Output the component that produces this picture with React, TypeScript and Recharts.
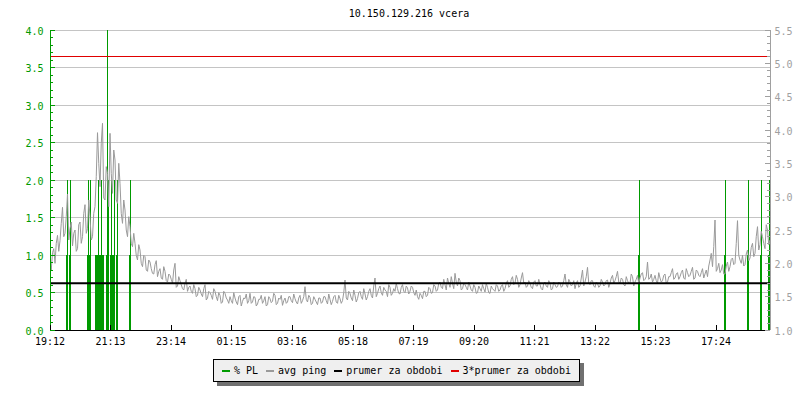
import React from 'react';
import { ComposedChart, Line, Bar, XAxis, YAxis, CartesianGrid, ReferenceLine } from 'recharts';

const chartTitle = '10.150.129.216 vcera';

const xTickMinutes = [0, 121, 242, 363, 484, 606, 727, 848, 969, 1090, 1211, 1332];
const xTickLabels = ['19:12', '21:13', '23:14', '01:15', '03:16', '05:18', '07:19', '09:20', '11:21', '13:22', '15:23', '17:24'];

const leftTicks = [
  0, 0.1, 0.2, 0.3, 0.4, 0.5, 0.6, 0.7, 0.8, 0.9, 1.0, 1.1, 1.2, 1.3, 1.4, 1.5, 1.6, 1.7, 1.8, 1.9, 2.0,
  2.1, 2.2, 2.3, 2.4, 2.5, 2.6, 2.7, 2.8, 2.9, 3.0, 3.1, 3.2, 3.3, 3.4, 3.5, 3.6, 3.7, 3.8, 3.9, 4.0,
];
const rightTicks = [
  1.0, 1.1, 1.2, 1.3, 1.4, 1.5, 1.6, 1.7, 1.8, 1.9, 2.0, 2.1, 2.2, 2.3, 2.4, 2.5, 2.6, 2.7, 2.8, 2.9, 3.0,
  3.1, 3.2, 3.3, 3.4, 3.5, 3.6, 3.7, 3.8, 3.9, 4.0, 4.1, 4.2, 4.3, 4.4, 4.5, 4.6, 4.7, 4.8, 4.9, 5.0,
  5.1, 5.2, 5.3, 5.4, 5.5,
];
const gridValues = [0.5, 1.0, 1.5, 2.0, 2.5, 3.0, 3.5, 4.0];

// avg ping (ms), samples every 5 minutes starting 19:12 (on the minute)
const sampleStepMin = 5;
const pingMs = [
  2.02, 2.16, 2.00, 2.42, 2.34, 2.84, 2.45, 3.04, 2.52, 2.26, 2.50, 2.22,
  2.62, 2.40, 2.88, 2.52, 2.70, 2.40, 2.85, 3.96, 3.15, 4.10, 2.95, 3.35,
  3.95, 3.05, 3.55, 2.90, 3.20, 2.60, 2.80, 2.40, 2.55, 2.25, 2.30, 2.05,
  2.20, 1.95, 2.10, 1.88, 2.02, 1.85, 1.98, 1.80, 1.92, 1.76, 1.88, 1.72,
  1.82, 1.70, 2.00, 1.66, 1.74, 1.62, 1.70, 1.58, 1.66, 1.55, 1.62, 1.52,
  1.60, 1.50, 1.68, 1.48, 1.56, 1.46, 1.58, 1.44, 1.52, 1.42, 1.55, 1.45,
  1.50, 1.40, 1.48, 1.38, 1.52, 1.43, 1.47, 1.40, 1.55, 1.42, 1.49, 1.39,
  1.46, 1.40, 1.50, 1.38, 1.47, 1.43, 1.52, 1.40, 1.46, 1.37, 1.48, 1.42,
  1.50, 1.41, 1.47, 1.39, 1.52, 1.44, 1.65, 1.42, 1.49, 1.40, 1.46, 1.38,
  1.48, 1.42, 1.50, 1.39, 1.46, 1.43, 1.52, 1.40, 1.47, 1.44, 1.75, 1.45,
  1.55, 1.44, 1.52, 1.47, 1.58, 1.46, 1.54, 1.50, 1.62, 1.48, 1.78, 1.55,
  1.66, 1.52, 1.60, 1.50, 1.64, 1.55, 1.58, 1.62, 1.54, 1.68, 1.56, 1.63,
  1.58, 1.64, 1.52, 1.50, 1.55, 1.47, 1.58, 1.52, 1.62, 1.56, 1.66, 1.60,
  1.72, 1.62, 1.68, 1.78, 1.64, 1.70, 1.85, 1.66, 1.74, 1.62, 1.68, 1.60,
  1.66, 1.58, 1.64, 1.56, 1.62, 1.68, 1.57, 1.64, 1.55, 1.62, 1.58, 1.66,
  1.60, 1.68, 1.62, 1.74, 1.66, 1.80, 1.70, 1.76, 1.68, 1.86, 1.72, 1.66,
  1.70, 1.62, 1.74, 1.66, 1.68, 1.60, 1.72, 1.64, 1.70, 1.62, 1.68, 1.65,
  1.70, 1.66, 1.84, 1.64, 1.72, 1.68, 1.62, 1.74, 1.66, 1.90, 1.72, 1.94,
  1.68, 1.74, 1.64, 1.70, 1.66, 1.72, 1.68, 1.75, 1.70, 1.82, 1.74, 1.88,
  1.70, 1.76, 1.66, 1.74, 1.70, 1.80, 1.72, 1.82, 1.78, 1.86, 1.76, 2.02,
  1.78, 1.72, 1.82, 1.70, 1.78, 1.74, 1.84, 1.72, 1.80, 1.92, 1.78, 1.86,
  1.80, 1.90, 1.76, 1.86, 1.82, 1.94, 1.78, 1.88, 1.80, 1.92, 1.84, 1.80,
  2.05, 1.95, 2.65, 1.92, 1.86, 1.98, 1.84, 2.02, 1.95, 2.08, 2.00, 2.64,
  2.05, 2.12, 1.98, 2.20, 2.08, 2.30, 2.15, 2.55, 2.28, 2.40, 2.22, 2.50,
  2.35,
];
// avg ping (ms), the samples taken half-way between the ones above (offset 2.5 minutes)
const halfOffsetMin = 2.5;
const pingHalfMs = [
  1.90, 2.22, 2.30, 2.18, 2.60, 2.40, 2.70, 2.35, 2.62, 2.45, 2.18, 2.58,
  2.30, 2.75, 2.45, 2.95, 2.35, 2.75, 3.30, 3.50, 3.80, 2.98, 3.45, 2.85,
  3.35, 3.70, 2.95, 3.50, 2.75, 2.95, 2.50, 2.70, 2.30, 2.45, 2.12, 2.28,
  2.00, 2.12, 1.90, 2.05, 1.92, 1.84, 2.04, 1.88, 1.78, 1.95, 1.74, 1.84,
  1.76, 1.90, 1.64, 1.80, 1.68, 1.60, 1.76, 1.64, 1.58, 1.68, 1.50, 1.64,
  1.54, 1.62, 1.45, 1.58, 1.52, 1.62, 1.50, 1.56, 1.40, 1.58, 1.48, 1.40,
  1.44, 1.56, 1.42, 1.50, 1.36, 1.48, 1.54, 1.44, 1.40, 1.50, 1.36, 1.46,
  1.52, 1.44, 1.36, 1.50, 1.41, 1.55, 1.38, 1.48, 1.52, 1.44, 1.40, 1.50,
  1.44, 1.54, 1.42, 1.48, 1.40, 1.50, 1.46, 1.52, 1.38, 1.50, 1.42, 1.48,
  1.40, 1.50, 1.44, 1.54, 1.38, 1.50, 1.42, 1.52, 1.40, 1.56, 1.48, 1.58,
  1.48, 1.60, 1.42, 1.56, 1.50, 1.62, 1.45, 1.58, 1.52, 1.66, 1.50, 1.62,
  1.56, 1.64, 1.58, 1.68, 1.52, 1.62, 1.70, 1.55, 1.64, 1.58, 1.66, 1.54,
  1.66, 1.56, 1.60, 1.46, 1.52, 1.58, 1.50, 1.64, 1.55, 1.68, 1.58, 1.70,
  1.64, 1.76, 1.60, 1.70, 1.80, 1.62, 1.72, 1.78, 1.60, 1.70, 1.64, 1.72,
  1.60, 1.68, 1.55, 1.66, 1.58, 1.62, 1.70, 1.56, 1.66, 1.60, 1.68, 1.58,
  1.66, 1.58, 1.70, 1.64, 1.76, 1.68, 1.82, 1.64, 1.78, 1.70, 1.64, 1.74,
  1.64, 1.72, 1.66, 1.76, 1.62, 1.70, 1.66, 1.74, 1.60, 1.72, 1.64, 1.72,
  1.64, 1.74, 1.68, 1.76, 1.66, 1.74, 1.70, 1.64, 1.78, 1.66, 1.80, 1.70,
  1.74, 1.66, 1.72, 1.64, 1.76, 1.66, 1.74, 1.64, 1.78, 1.70, 1.80, 1.72,
  1.78, 1.68, 1.80, 1.70, 1.84, 1.66, 1.76, 1.70, 1.84, 1.74, 1.80, 1.76,
  1.84, 1.76, 1.74, 1.86, 1.72, 1.82, 1.70, 1.80, 1.86, 1.76, 1.84, 1.76,
  1.86, 1.78, 1.92, 1.80, 1.88, 1.76, 1.90, 1.82, 1.86, 1.78, 1.90, 1.96,
  2.15, 2.25, 1.88, 2.00, 1.90, 1.84, 1.96, 1.88, 2.06, 1.98, 2.30, 2.12,
  2.00, 1.96, 2.14, 2.04, 2.24, 2.10, 2.40, 2.20, 2.48, 2.30, 2.58, 2.28,
];

// packet loss events (minutes after 19:12, percent)
const plMinutes = [34, 41, 76, 80, 92, 94, 96, 98, 100, 102, 104, 106, 114, 117, 122, 126, 128, 134, 160, 1179, 1350, 1396, 1422, 1439];
const plPercent = [2, 2, 2, 2, 1, 1, 2, 1, 1, 2, 1, 1, 4, 2, 2, 1, 2, 2, 2, 2, 2, 2, 2, 2];

const prumerMs = 1.7;
const prumerFactor = 3;

const legendLabels = ['% PL', 'avg ping', 'prumer za obdobi', '3*prumer za obdobi'];

const GREEN = '#009a00';
const PING = '#9a9a9a';
const RIGHT_GRAY = '#a0a0a0';
const RED = '#e00000';
const GRID = '#c4c4c4';
const FONT = 'DejaVu Sans Mono, monospace';
const legendColors = [GREEN, PING, '#000000', RED];

type Row = { t: number; ping?: number; pl?: number };
const rowMap = new Map<number, Row>();
pingMs.forEach((v, i) => {
  const t = i * sampleStepMin;
  rowMap.set(t, { t, ping: v });
});
pingHalfMs.forEach((v, i) => {
  const t = i * sampleStepMin + halfOffsetMin;
  rowMap.set(t, { t, ping: v });
});
plMinutes.forEach((t, i) => {
  const r = rowMap.get(t) ?? { t };
  r.pl = plPercent[i];
  rowMap.set(t, r);
});
const data: Row[] = Array.from(rowMap.values()).sort((a, b) => a.t - b.t);

const PlShape = (props: any) => {
  const { x, y, width, height, payload } = props;
  const v = payload ? payload.pl : undefined;
  if (v == null || !height || height <= 0) return <g />;
  const cx = Math.round(x + width / 2);
  const bottom = y + height;
  const perUnit = height / v;
  const lowTop = bottom - Math.min(v, 1) * perUnit;
  return (
    <g shapeRendering="crispEdges">
      <rect x={cx} y={y} width={1} height={height} fill={GREEN} />
      <rect x={cx - 1} y={lowTop} width={2} height={bottom - lowTop} fill={GREEN} />
    </g>
  );
};

const LeftTick = (props: any) => {
  const { x, y, payload } = props;
  const v = payload.value as number;
  const major = Math.round(v * 10) % 5 === 0;
  return (
    <g>
      <line x1={x} y1={y} x2={x + (major ? 5 : 3)} y2={y} stroke={GREEN} shapeRendering="crispEdges" />
      {major && (
        <text x={x - 6.5} y={y + 4.5} textAnchor="end" fill={GREEN} fontSize={10} fontFamily={FONT}>
          {v.toFixed(1)}
        </text>
      )}
    </g>
  );
};

const RightTick = (props: any) => {
  const { x, y, payload } = props;
  const v = payload.value as number;
  const major = Math.round(v * 10) % 5 === 0;
  return (
    <g>
      <line x1={x} y1={y} x2={x - (major ? 5 : 3)} y2={y} stroke={RIGHT_GRAY} shapeRendering="crispEdges" />
      {major && (
        <text x={x + 4.5} y={y + 4.5} textAnchor="start" fill={RIGHT_GRAY} fontSize={10} fontFamily={FONT}>
          {v.toFixed(1)}
        </text>
      )}
    </g>
  );
};

const XTick = (props: any) => {
  const { x, y, payload } = props;
  const idx = xTickMinutes.indexOf(payload.value);
  return (
    <g>
      <line x1={x} y1={y} x2={x} y2={y - 5} stroke="#000" shapeRendering="crispEdges" />
      <text x={x} y={y + 15} textAnchor="middle" fill="#000" fontSize={10} fontFamily={FONT}>
        {idx >= 0 ? xTickLabels[idx] : ''}
      </text>
    </g>
  );
};

const legendStart = 222;
const swatchW = 8;
const swatchGap = 4;
const itemGap = 8;
const charW = 6.02;

export default function App() {
  let cursor = legendStart;
  const legendItems = legendLabels.map((label, i) => {
    const sx = cursor;
    const tx = sx + swatchW + swatchGap;
    cursor = tx + label.length * charW + itemGap;
    return (
      <g key={label}>
        <rect x={sx} y={370} width={swatchW} height={2} fill={legendColors[i]} shapeRendering="crispEdges" />
        <text x={tx} y={373.5} fontSize={10} fontFamily={FONT} fill="#000">
          {label}
        </text>
      </g>
    );
  });

  return (
    <div style={{ position: 'absolute', left: 0, top: 0, width: 800, height: 400, background: '#fff' }}>
      <ComposedChart
        width={800}
        height={400}
        data={data}
        margin={{ top: 30, right: 0, bottom: 50, left: 0 }}
      >
        <CartesianGrid
          yAxisId="left"
          horizontal
          vertical={false}
          horizontalValues={gridValues}
          stroke={GRID}
          shapeRendering="crispEdges"
        />
        <XAxis
          dataKey="t"
          type="number"
          domain={[0, 1440]}
          allowDataOverflow
          ticks={xTickMinutes}
          interval={0}
          tickSize={0}
          tickMargin={0}
          tickLine={false}
          height={20}
          axisLine={{ stroke: '#000', shapeRendering: 'crispEdges' }}
          tick={<XTick />}
        />
        <YAxis
          yAxisId="left"
          orientation="left"
          type="number"
          domain={[0, 4]}
          allowDataOverflow
          ticks={leftTicks}
          interval={0}
          tickSize={0}
          tickMargin={0}
          tickLine={false}
          width={50}
          axisLine={{ stroke: GREEN, shapeRendering: 'crispEdges' }}
          tick={<LeftTick />}
        />
        <YAxis
          yAxisId="right"
          orientation="right"
          type="number"
          domain={[1, 5.5]}
          allowDataOverflow
          ticks={rightTicks}
          interval={0}
          tickSize={0}
          tickMargin={0}
          tickLine={false}
          width={30}
          axisLine={{ stroke: RIGHT_GRAY, shapeRendering: 'crispEdges' }}
          tick={<RightTick />}
        />
        <Bar yAxisId="left" dataKey="pl" barSize={2} fill={GREEN} shape={<PlShape />} isAnimationActive={false} />
        <Line
          yAxisId="right"
          dataKey="ping"
          type="linear"
          stroke={PING}
          strokeWidth={1}
          dot={false}
          activeDot={false}
          connectNulls
          isAnimationActive={false}
        />
        <ReferenceLine yAxisId="right" y={prumerMs} stroke="#000" strokeWidth={2} />
        <ReferenceLine yAxisId="right" y={prumerMs * prumerFactor} stroke={RED} strokeWidth={1} shapeRendering="crispEdges" />
      </ComposedChart>
      <svg
        width={800}
        height={400}
        style={{ position: 'absolute', left: 0, top: 0, pointerEvents: 'none' }}
      >
        <text x={409} y={17} textAnchor="middle" fontSize={10} fontFamily={FONT} fill="#000">
          {chartTitle}
        </text>
        <rect x={217} y={363} width={367} height={23} fill="#707070" shapeRendering="crispEdges" />
        <rect x={213.5} y={359.5} width={366} height={22} fill="#efefef" stroke="#000" strokeWidth={1} shapeRendering="crispEdges" />
        {legendItems}
      </svg>
    </div>
  );
}
